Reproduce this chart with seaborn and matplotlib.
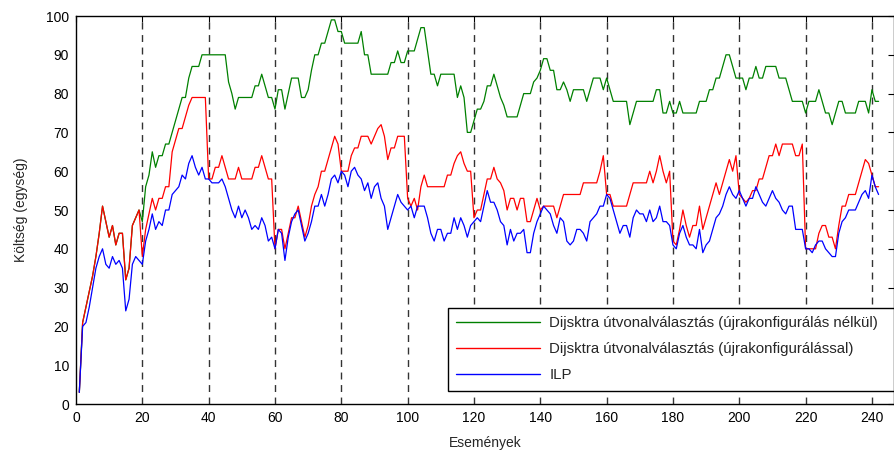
import numpy as np
import pandas as pd
import matplotlib
matplotlib.use("Agg")
import matplotlib.pyplot as plt
import seaborn as sns
from matplotlib.lines import Line2D

# ---------------- data ----------------
events = list(range(1, 243))

dijkstra_no_reconf = [
    3, 21, 25, 29, 33, 38, 44, 51, 47, 43, 46, 41, 44, 44, 32, 35, 46, 48, 50, 47,
    56, 59, 65, 61, 64, 64, 67, 67, 70, 73, 76, 79, 79, 84, 87, 87, 87, 90, 90, 90,
    90, 90, 90, 90, 90, 83, 80, 76, 79, 79, 79, 79, 79, 82, 82, 85, 82, 79, 79, 76,
    81, 81, 76, 80, 84, 84, 84, 79, 79, 81, 86, 90, 90, 93, 93, 96, 99, 99, 96, 96,
    93, 93, 93, 93, 93, 96, 90, 90, 85, 85, 85, 85, 85, 85, 88, 88, 91, 88, 88, 91,
    91, 91, 94, 97, 97, 91, 85, 85, 82, 85, 85, 85, 85, 85, 79, 82, 79, 70, 70, 73,
    76, 76, 78, 82, 82, 85, 82, 79, 77, 74, 74, 74, 74, 77, 80, 80, 80, 83, 84, 86,
    89, 89, 86, 86, 81, 81, 83, 81, 78, 81, 81, 81, 81, 78, 81, 84, 84, 84, 81, 84,
    81, 78, 78, 78, 78, 78, 72, 75, 78, 78, 78, 78, 78, 78, 81, 81, 75, 75, 78, 75,
    75, 78, 75, 75, 75, 75, 75, 78, 78, 78, 81, 81, 84, 84, 87, 90, 90, 87, 84, 84,
    84, 81, 84, 84, 87, 84, 84, 87, 87, 87, 87, 84, 84, 84, 81, 78, 78, 78, 78, 75,
    78, 78, 78, 81, 78, 75, 75, 72, 75, 78, 78, 75, 75, 75, 75, 78, 78, 78, 75, 81,
    78, 78,
]

dijkstra_reconf = [
    3, 21, 25, 29, 33, 38, 44, 51, 47, 43, 46, 41, 44, 44, 32, 35, 46, 48, 50, 38,
    45, 49, 53, 50, 53, 53, 56, 56, 65, 68, 71, 71, 74, 77, 79, 79, 79, 79, 79, 58,
    58, 61, 61, 64, 61, 58, 58, 58, 61, 58, 58, 58, 58, 61, 61, 64, 61, 58, 58, 40,
    45, 45, 40, 44, 48, 48, 51, 47, 43, 46, 51, 54, 56, 60, 60, 63, 66, 69, 67, 60,
    60, 60, 64, 66, 66, 69, 69, 69, 67, 69, 71, 72, 69, 63, 66, 66, 69, 69, 69, 53,
    51, 53, 50, 56, 59, 56, 56, 56, 56, 56, 56, 59, 59, 62, 64, 65, 62, 60, 60, 48,
    50, 50, 54, 58, 58, 61, 58, 57, 55, 50, 53, 53, 50, 53, 53, 47, 47, 50, 53, 50,
    51, 51, 51, 51, 48, 51, 54, 54, 54, 54, 54, 54, 57, 57, 57, 57, 57, 60, 64, 54,
    54, 51, 51, 51, 51, 51, 54, 57, 57, 57, 57, 57, 60, 57, 60, 64, 60, 57, 60, 42,
    41, 45, 50, 46, 43, 46, 46, 51, 45, 48, 51, 54, 57, 54, 57, 60, 63, 60, 64, 54,
    53, 52, 53, 55, 55, 58, 58, 61, 64, 64, 67, 64, 67, 67, 67, 67, 64, 64, 67, 40,
    40, 40, 40, 44, 46, 46, 43, 43, 40, 46, 51, 51, 54, 54, 54, 57, 60, 63, 62, 59,
    56, 56,
]

ilp = [
    3, 20, 21, 25, 30, 35, 38, 40, 36, 35, 38, 36, 37, 35, 24, 27, 36, 38, 37, 36,
    42, 45, 49, 45, 47, 46, 50, 50, 54, 55, 56, 59, 58, 62, 64, 61, 59, 61, 58, 58,
    57, 57, 57, 58, 56, 53, 50, 48, 51, 48, 50, 48, 45, 46, 45, 48, 46, 42, 43, 40,
    45, 44, 37, 43, 47, 49, 50, 46, 42, 44, 47, 51, 51, 54, 51, 54, 58, 59, 57, 60,
    59, 56, 60, 61, 59, 58, 55, 57, 53, 56, 57, 53, 51, 45, 48, 51, 54, 52, 51, 50,
    51, 48, 51, 51, 51, 48, 44, 42, 45, 45, 42, 44, 44, 48, 45, 48, 46, 43, 46, 47,
    48, 47, 51, 55, 52, 52, 50, 47, 46, 41, 45, 42, 44, 44, 45, 39, 39, 44, 47, 49,
    51, 50, 49, 46, 44, 48, 47, 42, 41, 42, 45, 45, 44, 42, 47, 48, 49, 51, 51, 54,
    53, 50, 47, 44, 46, 46, 43, 48, 50, 49, 49, 47, 50, 47, 48, 51, 47, 47, 46, 41,
    40, 44, 46, 43, 41, 41, 40, 45, 39, 41, 42, 45, 48, 49, 51, 54, 56, 54, 53, 55,
    53, 51, 53, 53, 56, 54, 52, 51, 53, 55, 53, 52, 50, 49, 51, 51, 45, 45, 45, 40,
    40, 39, 41, 42, 42, 40, 39, 38, 38, 44, 47, 48, 50, 50, 50, 52, 54, 55, 53, 59,
    56, 54,
]

labels = [
    "Dijsktra útvonalválasztás (újrakonfigurálás nélkül)",
    "Dijsktra útvonalválasztás (újrakonfigurálással)",
    "ILP",
]
colors = ["#008000", "#ff0000", "#0000ff"]
x_ticks = list(range(0, 241, 20))
y_ticks = list(range(0, 101, 10))
x_label = "Események"
y_label = "Költség (egység)"

# ---------------- figure ----------------
sns.set_theme(style="white")
plt.rcParams["font.family"] = ["Liberation Sans", "DejaVu Sans"]
plt.rcParams["xtick.direction"] = "in"
plt.rcParams["ytick.direction"] = "in"

df = pd.concat([
    pd.DataFrame({"x": events, "v": vals, "s": lab})
    for vals, lab in zip([dijkstra_no_reconf, dijkstra_reconf, ilp], labels)
])

fig = plt.figure(figsize=(8.94, 4.54), dpi=100)
ax = fig.add_axes([76 / 894, 1 - 404 / 454, (893.5 - 76) / 894, (404 - 16) / 454])

for xv in x_ticks[1:]:
    ax.axvline(xv, color="#333333", lw=1.0, ls=(0, (5, 4)), zorder=0.5)

sns.lineplot(data=df, x="x", y="v", hue="s", hue_order=labels,
             palette=colors, estimator=None, sort=False, lw=0.9, ax=ax,
             legend=False)

ax.set_xlim(0, 246.5)
ax.set_ylim(0, 100)
ax.set_xticks(x_ticks)
ax.set_yticks(y_ticks)
ax.tick_params(axis="both", labelsize=10, colors="black", length=4, width=0.8,
               top=True, right=True, pad=5)
for sp in ax.spines.values():
    sp.set_color("black")
    sp.set_linewidth(1.0)
ax.set_xlabel(x_label, fontsize=10, labelpad=8)
ax.set_ylabel(y_label, fontsize=10, labelpad=13)

handles = [Line2D([], [], color=c, lw=1.0) for c in colors]
leg = ax.legend(handles, labels, loc="upper left",
                bbox_to_anchor=(0.455, 0.031, 0.545, 0.216), mode="expand",
                fontsize=10.8, frameon=True, fancybox=False, framealpha=1,
                edgecolor="black", handlelength=5.6, handletextpad=0.6,
                labelspacing=0.8, borderpad=0.55, borderaxespad=0)
leg.get_frame().set_linewidth(1.0)

fig.savefig("out.png", dpi=100)
